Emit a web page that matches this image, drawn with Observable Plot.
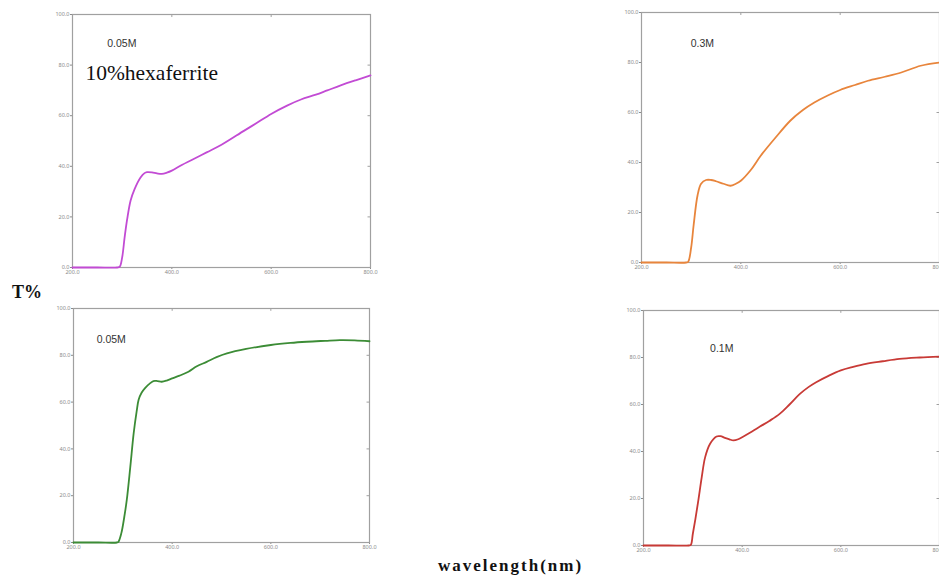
<!DOCTYPE html>
<html><head><meta charset="utf-8">
<script src="https://cdn.jsdelivr.net/npm/d3@7"></script>
<script src="https://cdn.jsdelivr.net/npm/@observablehq/plot@0.6"></script>
<style>
body{margin:0;background:#fff;}
#root{position:relative;width:939px;height:576px;overflow:hidden;background:#fff;}
.panel{position:absolute;}
.lbl{position:absolute;font-family:"Liberation Serif","Times New Roman",serif;font-weight:bold;color:#111;white-space:nowrap;line-height:1;}
</style></head><body><div id="root"></div>
<script>
// ---- data ----
const xTicks = [200, 400, 600, 800];
const yTicks = [0, 20, 40, 60, 80, 100];

// top-left (magenta) 0.05M, 10% hexaferrite
const wl1 = [200, 250, 290, 295, 300, 305, 310, 317, 325, 337, 345, 350, 360, 370, 380, 390, 400, 420, 440, 470, 500, 545, 570, 600, 632, 660, 690, 713, 740, 770, 800];
const t1  = [0, 0, 0, 0.3, 4, 12, 19, 26.5, 31, 35.6, 37.3, 37.7, 37.6, 37.2, 37, 37.5, 38.3, 40.5, 42.5, 45.5, 48.5, 54, 57, 60.7, 64, 66.4, 68.3, 70, 72, 74, 75.9];

// top-right (orange) 0.3M
const wl2 = [200, 250, 290, 294, 300, 305, 313, 320, 330, 340, 350, 365, 379, 390, 400, 420, 440, 470, 500, 525, 548, 575, 600, 630, 656, 690, 723, 762, 800];
const t2  = [0, 0, 0, 0.3, 6, 15, 27, 31.5, 33, 33, 32.5, 31.5, 30.7, 31.5, 32.7, 37, 42.7, 50, 56.8, 61, 64, 66.8, 69, 71, 72.7, 74.3, 76, 78.7, 80];

// bottom-left (green) 0.05M
const wl3 = [200, 250, 288, 291, 297, 303, 308, 315, 322, 328, 332, 338, 345, 355, 362, 370, 379, 390, 400, 415, 433, 450, 470, 490, 511, 550, 600, 640, 673, 710, 740, 770, 800];
const t3  = [0, 0, 0, 0.3, 4, 11, 18.2, 32, 46.7, 56, 61, 64, 66, 68, 69, 69, 68.7, 69.3, 70.1, 71.3, 73, 75.3, 77.2, 79.2, 80.8, 82.7, 84.4, 85.3, 85.8, 86.2, 86.5, 86.4, 86];

// bottom-right (red) 0.1M
const wl4 = [200, 250, 292, 296, 300, 305, 311, 318, 325, 335, 348, 356, 365, 374, 382, 392, 400, 420, 436, 455, 476, 496, 517, 535, 550, 575, 600, 625, 651, 685, 719, 760, 800];
const t4  = [0, 0, 0, 0.3, 5, 11, 19, 29, 37.6, 43.3, 46.4, 46.5, 45.8, 45.2, 44.7, 45.2, 46.1, 48.5, 50.6, 53, 56, 60, 64.5, 67.5, 69.5, 72.2, 74.5, 76, 77.3, 78.4, 79.4, 80, 80.4];

const concLabels = ["0.05M", "0.3M", "0.05M", "0.1M"];
const noteLabel = "10%hexaferrite";
const yTitle = "T%";
const xTitle = "wavelength(nm)";

// ---- layout / style ----
const panels = [
  {wl: wl1, t: t1, color: "#c24bd4", label: concLabels[0], lx: 270, ly: 88.5, note: true,
   left: 40, top: 0, width: 340, height: 280, ml: 32, mr: 10, mt: 14, mb: 13},
  {wl: wl2, t: t2, color: "#e8853c", label: concLabels[1], lx: 299, ly: 87.7,
   left: 600, top: 0, width: 339, height: 280, ml: 41, mr: 0, mt: 12, mb: 18},
  {wl: wl3, t: t3, color: "#3c8c36", label: concLabels[2], lx: 247, ly: 86.9,
   left: 40, top: 295, width: 340, height: 260, ml: 33, mr: 11, mt: 13, mb: 13},
  {wl: wl4, t: t4, color: "#c83a36", label: concLabels[3], lx: 335, ly: 83.8,
   left: 600, top: 295, width: 339, height: 265, ml: 43, mr: 0, mt: 15, mb: 15}
];

const root = document.getElementById("root");
const fmt = d3.format(".1f");

for (const p of panels) {
  const rows = p.wl.map((w, i) => ({w, t: p.t[i]}));
  const marks = [
    Plot.frame({stroke: "#a0a0a0", strokeWidth: 1.2}),
    Plot.ruleX(xTicks.slice(1, -1), {x: d => d, y1: 100, y2: 98.8, stroke: "#a0a0a0"}),
    Plot.ruleY(yTicks.slice(1, -1), {y: d => d, x1: 800, x2: 795, stroke: "#a0a0a0"}),
    Plot.line(rows, {x: "w", y: "t", stroke: p.color, strokeWidth: 1.8, curve: "catmull-rom"}),
    Plot.text([p.label], {x: p.lx, y: p.ly, text: d => d, textAnchor: "start",
      fontSize: 10.5, fill: "#333", fontFamily: "'Liberation Sans', Arial, sans-serif"})
  ];
  if (p.note) {
    marks.push(Plot.text([noteLabel], {x: 226, y: 77, text: d => d, textAnchor: "start",
      fontSize: 21.5, fill: "#111", fontFamily: "'Liberation Serif', 'Times New Roman', serif"}));
  }
  const chart = Plot.plot({
    width: p.width, height: p.height,
    marginLeft: p.ml, marginRight: p.mr, marginTop: p.mt, marginBottom: p.mb,
    style: {fontSize: "5.5px", color: "#8a8a8a", background: "white", overflow: "visible"},
    x: {domain: [200, 800], ticks: xTicks, tickFormat: fmt, tickSize: 2, tickPadding: 1, label: null},
    y: {domain: [0, 100], ticks: yTicks, tickFormat: fmt, tickSize: 2, tickPadding: 1, label: null},
    marks
  });
  chart.classList.add("panel");
  chart.style.left = p.left + "px";
  chart.style.top = p.top + "px";
  root.appendChild(chart);
}

const tl = document.createElement("div");
tl.className = "lbl"; tl.textContent = yTitle;
tl.style.cssText += "left:12px;top:283px;font-size:18px;";
root.appendChild(tl);

const xl = document.createElement("div");
xl.className = "lbl"; xl.textContent = xTitle;
xl.style.cssText += "left:438px;top:557px;font-size:17px;letter-spacing:2px;";
root.appendChild(xl);
</script></body></html>
